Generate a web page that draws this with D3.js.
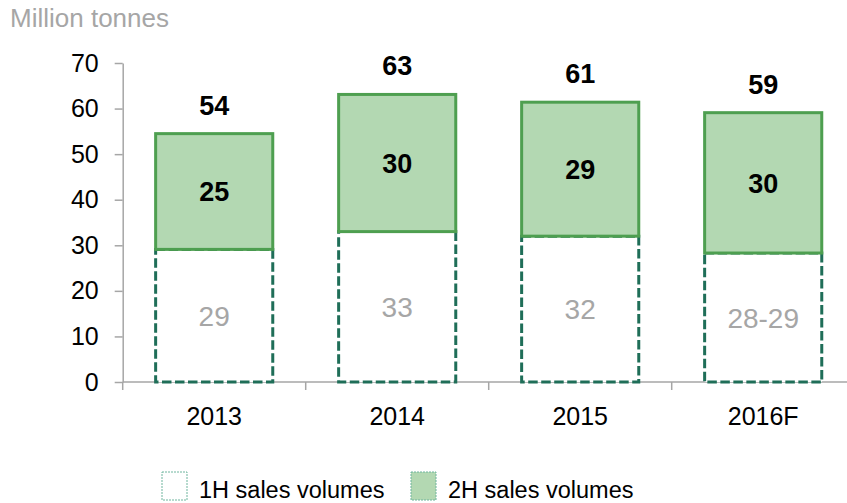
<!DOCTYPE html>
<html>
<head>
<meta charset="utf-8">
<script src="https://cdn.jsdelivr.net/npm/d3@7"></script>
<style>
  body { margin: 0; background: #fff; }
  svg { display: block; font-family: "Liberation Sans", Arial, sans-serif; }
</style>
</head>
<body>
<div id="parentDiv"></div>
<script>
// chart data
const years = ["2013", "2014", "2015", "2016F"];
const firstHalf = [29.1, 33.0, 32.0, 28.3];
const secondHalf = [25.4, 30.1, 29.4, 30.8];
const firstLabels = ["29", "33", "32", "28-29"];
const secondLabels = ["25", "30", "29", "30"];
const totalLabels = ["54", "63", "61", "59"];
const yTicks = [0, 10, 20, 30, 40, 50, 60, 70];

const width = 847;
const height = 503;

const darkGreen = "#1F6E58";
const midGreen = "#4E9F50";
const lightGreen = "#B3D8B2";
const greyText = "#A6A6A6";
const axisGrey = "#A6A6A6";

const svg = d3.select('#parentDiv').append('svg')
  .attr('width', width)
  .attr('height', height);

const x = d3.scaleBand()
  .domain(years)
  .range([122.7, 854.7])
  .paddingInner(0.36)
  .paddingOuter(0.18);

const y = d3.scaleLinear()
  .domain([0, 70])
  .range([382, 63]);

// unit label
svg.append('text')
  .attr('x', 10)
  .attr('y', 27)
  .attr('fill', greyText)
  .attr('font-size', '26px')
  .text("Million tonnes");

// y axis
const yAxis = svg.append('g')
  .attr('transform', 'translate(122.7,0)')
  .call(d3.axisLeft(y).tickValues(yTicks).tickSize(8).tickPadding(16).tickSizeOuter(0));
yAxis.select('.domain').attr('stroke', axisGrey).attr('stroke-width', 1.5);
yAxis.selectAll('.tick line').attr('stroke', axisGrey).attr('stroke-width', 1.5);
yAxis.selectAll('.tick text')
  .attr('fill', '#000')
  .attr('font-size', '25px')
  .attr('font-family', '"Liberation Sans", Arial, sans-serif');

// x axis: line plus ticks between categories
const step = x.step();
const bounds = d3.range(years.length + 1).map(i => x.range()[0] + i * step);
svg.append('line')
  .attr('x1', bounds[0]).attr('x2', bounds[bounds.length - 1])
  .attr('y1', y(0)).attr('y2', y(0))
  .attr('stroke', axisGrey).attr('stroke-width', 1.5);
svg.selectAll('.xtick')
  .data(bounds)
  .enter().append('line')
  .attr('x1', d => d).attr('x2', d => d)
  .attr('y1', y(0)).attr('y2', y(0) + 8)
  .attr('stroke', axisGrey).attr('stroke-width', 1.5);
svg.selectAll('.xlabel')
  .data(years)
  .enter().append('text')
  .attr('x', d => x(d) + x.bandwidth() / 2)
  .attr('y', 425)
  .attr('text-anchor', 'middle')
  .attr('font-size', '25px')
  .text(d => d);

// 1H bars (dashed outline)
svg.selectAll('.first')
  .data(years)
  .enter().append('rect')
  .attr('x', d => x(d))
  .attr('y', (d, i) => y(firstHalf[i]))
  .attr('width', x.bandwidth())
  .attr('height', (d, i) => y(0) - y(firstHalf[i]))
  .attr('fill', '#fff')
  .attr('stroke', darkGreen)
  .attr('stroke-width', 3)
  .attr('stroke-dasharray', '9.5,3.5');

// 2H bars (stacked on top)
svg.selectAll('.second')
  .data(years)
  .enter().append('rect')
  .attr('x', d => x(d))
  .attr('y', (d, i) => y(firstHalf[i] + secondHalf[i]))
  .attr('width', x.bandwidth())
  .attr('height', (d, i) => y(firstHalf[i]) - y(firstHalf[i] + secondHalf[i]))
  .attr('fill', lightGreen)
  .attr('stroke', midGreen)
  .attr('stroke-width', 3);

// labels
svg.selectAll('.firstLabel')
  .data(years)
  .enter().append('text')
  .attr('x', d => x(d) + x.bandwidth() / 2)
  .attr('y', (d, i) => (y(0) + y(firstHalf[i])) / 2)
  .attr('dy', '0.36em')
  .attr('text-anchor', 'middle')
  .attr('font-size', '28px')
  .attr('fill', greyText)
  .text((d, i) => firstLabels[i]);

svg.selectAll('.secondLabel')
  .data(years)
  .enter().append('text')
  .attr('x', d => x(d) + x.bandwidth() / 2)
  .attr('y', (d, i) => (y(firstHalf[i]) + y(firstHalf[i] + secondHalf[i])) / 2)
  .attr('dy', '0.36em')
  .attr('text-anchor', 'middle')
  .attr('font-size', '27px')
  .attr('font-weight', 'bold')
  .text((d, i) => secondLabels[i]);

svg.selectAll('.totalLabel')
  .data(years)
  .enter().append('text')
  .attr('x', d => x(d) + x.bandwidth() / 2)
  .attr('y', (d, i) => y(firstHalf[i] + secondHalf[i]) - 19)
  .attr('text-anchor', 'middle')
  .attr('font-size', '27px')
  .attr('font-weight', 'bold')
  .text((d, i) => totalLabels[i]);

// LEGEND
const legendItems = [
  {label: "1H sales volumes", fill: '#fff', x: 162},
  {label: "2H sales volumes", fill: lightGreen, x: 411}
];
legendItems.forEach(item => {
  svg.append('rect')
    .attr('x', item.x)
    .attr('y', 472)
    .attr('width', 25)
    .attr('height', 28)
    .attr('fill', item.fill)
    .attr('stroke', '#6FB59E')
    .attr('stroke-width', 1)
    .attr('stroke-dasharray', '2,1');
  svg.append('text')
    .attr('x', item.x + 37)
    .attr('y', 498)
    .attr('font-size', '23.5px')
    .text(item.label);
});
</script>
</body>
</html>
